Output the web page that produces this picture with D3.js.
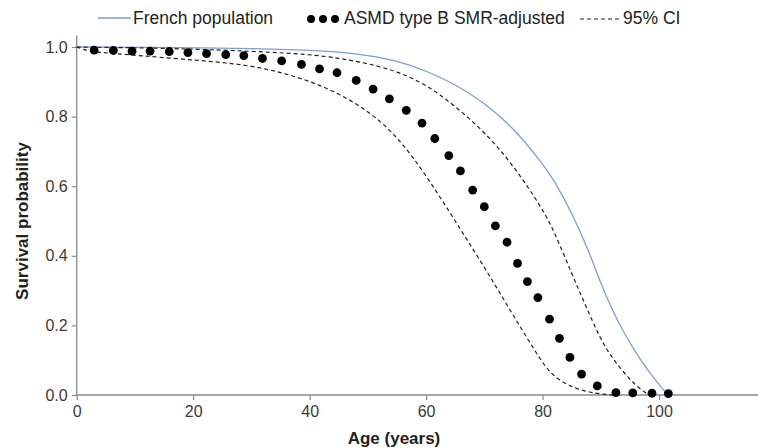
<!DOCTYPE html>
<html>
<head>
<meta charset="utf-8">
<script src="https://cdn.jsdelivr.net/npm/d3@7"></script>
<style>
  html, body { margin: 0; padding: 0; background: #fff; }
  svg { display: block; font-family: "Liberation Sans", Arial, sans-serif; }
</style>
</head>
<body>
<svg id="chart" width="758" height="448"></svg>
<script>
// ---- data ----
const frenchAge  = [0, 20, 30, 40, 45, 50, 55, 60, 65, 70, 75, 80, 82, 85, 88, 90, 92, 94, 96, 98, 100, 101.5];
const frenchSurv = [1.0, 0.998, 0.996, 0.991, 0.986, 0.976, 0.961, 0.932, 0.893, 0.840, 0.768, 0.665, 0.617, 0.525, 0.412, 0.320, 0.243, 0.178, 0.122, 0.072, 0.030, 0.0];

const upperAge  = [0, 10, 20, 30, 40, 45, 50, 55, 60, 65, 70, 75, 80, 82, 85, 87, 90, 92, 95, 97, 98.3];
const upperSurv = [1.0, 0.998, 0.994, 0.988, 0.979, 0.968, 0.953, 0.930, 0.893, 0.830, 0.757, 0.660, 0.535, 0.470, 0.350, 0.272, 0.158, 0.105, 0.043, 0.014, 0.0];

const lowerAge  = [0, 2, 6, 16, 26, 32, 38, 44, 50, 55, 60, 65, 70, 75, 80, 82, 85, 88, 90, 92];
const lowerSurv = [1.0, 0.987, 0.982, 0.968, 0.955, 0.940, 0.914, 0.876, 0.818, 0.745, 0.632, 0.500, 0.368, 0.228, 0.090, 0.052, 0.022, 0.008, 0.003, 0.0];

const asmdAge  = [3, 6.3, 9.5, 12.6, 15.9, 19.1, 22.3, 25.6, 28.7, 31.9, 35.2, 38.6, 41.7, 44.7, 48, 50.9, 53.7, 56.6, 59.3, 61.5, 63.9, 65.9, 68, 70, 71.9, 73.9, 75.7, 77.4, 79.2, 81.2, 82.9, 84.7, 86.7, 89.4, 92.6, 95.5, 98.8, 101.6];
const asmdSurv = [0.991, 0.990, 0.988, 0.988, 0.987, 0.984, 0.981, 0.978, 0.975, 0.967, 0.960, 0.950, 0.937, 0.926, 0.904, 0.879, 0.851, 0.818, 0.781, 0.737, 0.688, 0.644, 0.589, 0.541, 0.486, 0.439, 0.378, 0.326, 0.280, 0.218, 0.163, 0.108, 0.060, 0.026, 0.007, 0.006, 0.005, 0.004];

const xTicks = [0, 20, 40, 60, 80, 100];
const yTicks = [0.0, 0.2, 0.4, 0.6, 0.8, 1.0];
const legendLabels = ["French population", "ASMD type B SMR-adjusted", "95% CI"];
const xTitle = "Age (years)";
const yTitle = "Survival probability";

// ---- layout ----
const svg = d3.select("#chart");
const x = d3.scaleLinear().domain([0, 117]).range([76.7, 758]);
const y = d3.scaleLinear().domain([0, 1]).range([395, 47]);
const axisColor = "#8a8a8a";
const textColor = "#3a3a3a";

const zip = (a, b) => a.map((v, i) => [v, b[i]]);
const line = d3.line().x(d => x(d[0])).y(d => y(d[1])).curve(d3.curveBasis);

// axes
const gx = svg.append("g").attr("transform", `translate(0,${y(0)})`)
  .call(d3.axisBottom(x).tickValues(xTicks).tickSize(5).tickPadding(6).tickFormat(d3.format("d")));
const gy = svg.append("g").attr("transform", `translate(${x(0)},0)`)
  .call(d3.axisLeft(y).tickValues(yTicks).tickSize(5).tickPadding(4).tickFormat(d3.format(".1f")));
[gx, gy].forEach(g => {
  g.select(".domain").remove();
  g.selectAll(".tick line").attr("stroke", axisColor).attr("stroke-width", 1.2);
  g.selectAll(".tick text").attr("fill", textColor).style("font-size", "16px")
   .style("font-family", "'Liberation Sans', Arial, sans-serif");
});
// axis lines
svg.append("line").attr("x1", x(0)).attr("x2", 758).attr("y1", y(0)).attr("y2", y(0))
  .attr("stroke", axisColor).attr("stroke-width", 1.3);
svg.append("line").attr("x1", x(0)).attr("x2", x(0)).attr("y1", y(1.033)).attr("y2", y(0) + 0.6)
  .attr("stroke", axisColor).attr("stroke-width", 1.3);

// series
svg.append("path").datum(zip(frenchAge, frenchSurv)).attr("d", line)
  .attr("fill", "none").attr("stroke", "#7d9fd0").attr("stroke-width", 1.3);
svg.append("path").datum(zip(upperAge, upperSurv)).attr("d", line)
  .attr("fill", "none").attr("stroke", "#222").attr("stroke-width", 1.2).attr("stroke-dasharray", "4,3");
svg.append("path").datum(zip(lowerAge, lowerSurv)).attr("d", line)
  .attr("fill", "none").attr("stroke", "#222").attr("stroke-width", 1.2).attr("stroke-dasharray", "4,3");
svg.append("g").selectAll("circle").data(zip(asmdAge, asmdSurv)).join("circle")
  .attr("cx", d => x(d[0])).attr("cy", d => y(d[1])).attr("r", 4.4).attr("fill", "#000");

// axis titles
svg.append("text").attr("x", 394).attr("y", 438).attr("text-anchor", "middle")
  .attr("dominant-baseline", "central").style("font-size", "17px").style("font-weight", "bold")
  .attr("fill", "#222").text(xTitle);
svg.append("text").attr("transform", "translate(22,221) rotate(-90)").attr("text-anchor", "middle")
  .attr("dominant-baseline", "central").style("font-size", "17px").style("font-weight", "bold")
  .attr("fill", "#222").text(yTitle);

// legend
const ly = 18;
const lg = svg.append("g");
lg.append("line").attr("x1", 98).attr("x2", 131).attr("y1", ly).attr("y2", ly)
  .attr("stroke", "#7d9fd0").attr("stroke-width", 1.3);
lg.append("text").attr("x", 133).attr("y", ly).attr("dominant-baseline", "central")
  .style("font-size", "17.5px").attr("fill", "#222").text(legendLabels[0]);
lg.selectAll("circle.lgd").data([0, 1, 2]).join("circle").attr("class", "lgd")
  .attr("cx", d => 311 + d * 12).attr("cy", ly + 1).attr("r", 4).attr("fill", "#000");
lg.append("text").attr("x", 344).attr("y", ly).attr("dominant-baseline", "central")
  .style("font-size", "17.5px").attr("fill", "#222").text(legendLabels[1]);
lg.append("line").attr("x1", 580).attr("x2", 620).attr("y1", ly + 1).attr("y2", ly + 1)
  .attr("stroke", "#222").attr("stroke-width", 1.2).attr("stroke-dasharray", "4,3");
lg.append("text").attr("x", 623).attr("y", ly).attr("dominant-baseline", "central")
  .style("font-size", "17.5px").attr("fill", "#222").text(legendLabels[2]);
</script>
</body>
</html>
